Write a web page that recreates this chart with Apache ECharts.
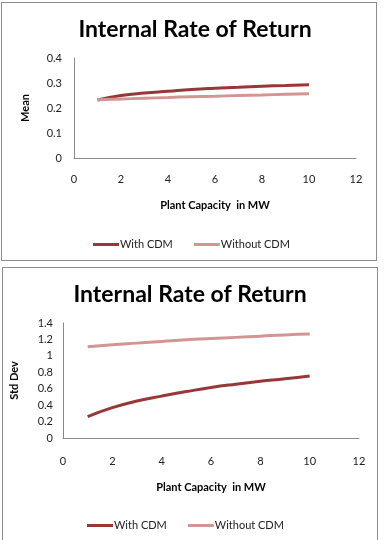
<!DOCTYPE html>
<html><head><meta charset="utf-8">
<script src="https://cdn.jsdelivr.net/npm/echarts@6/dist/echarts.min.js"></script>
<style>
html,body{margin:0;padding:0;background:#fff;width:385px;height:540px;overflow:hidden;}
#c1{position:absolute;left:0;top:0;width:385px;height:265px;}
#c2{position:absolute;left:0;top:265px;width:385px;height:275px;}
.b1{position:absolute;left:1px;top:2px;width:376px;height:259px;border:1px solid #8c8c8c;box-sizing:border-box;}
.b2{position:absolute;left:2px;top:267px;width:376px;height:280px;border:1px solid #8c8c8c;box-sizing:border-box;}
</style></head><body>
<div class="b1"></div><div class="b2"></div>
<div id="c1"></div><div id="c2"></div>
<script>
const titleText = 'Internal Rate of Return';
const xName = 'Plant Capacity  in MW';
const seriesNames = ['With CDM', 'Without CDM'];
const capacity = [1, 2, 3, 4, 5, 6, 7, 8, 9, 10];
const meanWithCDM = [0.232, 0.250, 0.260, 0.267, 0.274, 0.279, 0.283, 0.287, 0.290, 0.293];
const meanWithoutCDM = [0.233, 0.236, 0.239, 0.242, 0.245, 0.247, 0.250, 0.252, 0.255, 0.257];
const sdWithCDM = [0.26, 0.37, 0.45, 0.51, 0.565, 0.615, 0.655, 0.69, 0.72, 0.755];
const sdWithoutCDM = [1.11, 1.135, 1.155, 1.175, 1.195, 1.21, 1.225, 1.24, 1.255, 1.265];
const xTicks = [0, 2, 4, 6, 8, 10, 12];
const meanTicks = [0, 0.1, 0.2, 0.3, 0.4];
const sdTicks = [0, 0.2, 0.4, 0.6, 0.8, 1, 1.2, 1.4];

const colors = ['#963837', '#d39593'];
const font = 'Lato, "Open Sans", sans-serif';

function pairs(xs, ys){ return xs.map((x,i)=>[x, ys[i]]); }

function makeOption(cfg){
  return {
    animation:false,
    textStyle:{fontFamily:font},
    title:{text:titleText, left:cfg.titleX, top:cfg.titleTop, textAlign:'center',
      textStyle:{fontFamily:font, fontWeight:'bold', fontSize:23, color:'#000'}},
    legend:{data:seriesNames, left:cfg.legendLeft, top:cfg.legendTop, itemWidth:26, itemHeight:3, itemGap:21,
      icon:'rect', textStyle:{fontFamily:font, fontSize:11, color:'#222', padding:[0,0,0,-4]}},
    grid:{left:cfg.gl, top:cfg.gt, width:cfg.gw, height:cfg.gh},
    xAxis:{type:'value', min:xTicks[0], max:xTicks[xTicks.length-1], interval:xTicks[1]-xTicks[0],
      name:xName, nameLocation:'middle', nameGap:cfg.xNameGap,
      nameTextStyle:{fontFamily:font, fontWeight:'bold', fontSize:11, color:'#000'},
      axisLine:{lineStyle:{color:'#8a8a8a'}}, axisTick:{show:false}, splitLine:{show:false},
      axisLabel:{margin:cfg.xLabelMargin, fontSize:11, color:'#222', fontFamily:font}},
    yAxis:{type:'value', min:cfg.yTicks[0], max:cfg.yTicks[cfg.yTicks.length-1],
      interval:cfg.yTicks[1]-cfg.yTicks[0],
      name:cfg.yName, nameLocation:'middle', nameGap:cfg.yNameGap, nameRotate:90,
      nameTextStyle:{fontFamily:font, fontWeight:'bold', fontSize:11, color:'#000'},
      axisLine:{show:true, lineStyle:{color:'#8a8a8a'}}, axisTick:{show:false}, splitLine:{show:false},
      axisLabel:{margin:cfg.yLabelMargin, fontSize:11, color:'#222', fontFamily:font}},
    series:[
      {name:seriesNames[0], type:'line', smooth:true, showSymbol:false, data:pairs(capacity, cfg.a),
        lineStyle:{width:3, color:colors[0]}, itemStyle:{color:colors[0]}},
      {name:seriesNames[1], type:'line', smooth:true, showSymbol:false, data:pairs(capacity, cfg.b),
        lineStyle:{width:3, color:colors[1]}, itemStyle:{color:colors[1]}}
    ]
  };
}

const c1 = echarts.init(document.getElementById('c1'), null, {renderer:'canvas'});
c1.setOption(makeOption({titleX:190, titleTop:13, legendLeft:88, legendTop:234,
  gl:74, gt:58, gw:282, gh:100, xNameGap:42, xLabelMargin:16, yName:'Mean', yNameGap:43, yLabelMargin:12,
  yTicks:meanTicks, a:meanWithCDM, b:meanWithoutCDM}));

const c2 = echarts.init(document.getElementById('c2'), null, {renderer:'canvas'});
c2.setOption(makeOption({titleX:185, titleTop:13, legendLeft:82, legendTop:250,
  gl:63, gt:58, gw:296, gh:115, xNameGap:44, xLabelMargin:18, yName:'Std Dev', yNameGap:43, yLabelMargin:10,
  yTicks:sdTicks, a:sdWithCDM, b:sdWithoutCDM}));
</script>
</body></html>
